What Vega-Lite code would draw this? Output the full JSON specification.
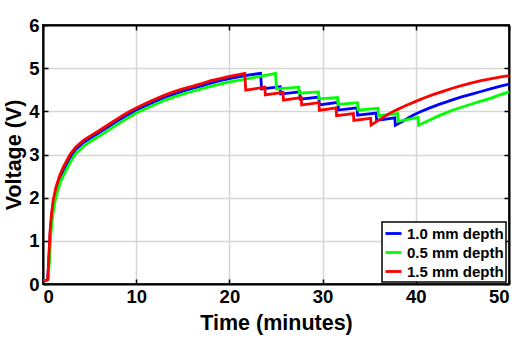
{
  "$schema": "https://vega.github.io/schema/vega-lite/v6.json",
  "width": 466,
  "height": 259,
  "autosize": {"type": "none"},
  "padding": {"left": 43, "top": 25, "right": 14, "bottom": 54},
  "background": "white",
  "datasets": {
    "curves": [
      {"t": 0, "v": 0.08, "s": "1.0 mm depth"},
      {"t": 0.3, "v": 0.08, "s": "1.0 mm depth"},
      {"t": 0.5, "v": 0.1, "s": "1.0 mm depth"},
      {"t": 0.62, "v": 0.5, "s": "1.0 mm depth"},
      {"t": 0.78, "v": 1.2, "s": "1.0 mm depth"},
      {"t": 0.95, "v": 1.6, "s": "1.0 mm depth"},
      {"t": 1.15, "v": 1.92, "s": "1.0 mm depth"},
      {"t": 1.45, "v": 2.2, "s": "1.0 mm depth"},
      {"t": 1.85, "v": 2.47, "s": "1.0 mm depth"},
      {"t": 2.3, "v": 2.67, "s": "1.0 mm depth"},
      {"t": 3, "v": 2.95, "s": "1.0 mm depth"},
      {"t": 3.5, "v": 3.12, "s": "1.0 mm depth"},
      {"t": 4.3, "v": 3.27, "s": "1.0 mm depth"},
      {"t": 5, "v": 3.37, "s": "1.0 mm depth"},
      {"t": 6, "v": 3.5, "s": "1.0 mm depth"},
      {"t": 7, "v": 3.64, "s": "1.0 mm depth"},
      {"t": 8, "v": 3.78, "s": "1.0 mm depth"},
      {"t": 9, "v": 3.91, "s": "1.0 mm depth"},
      {"t": 10, "v": 4.03, "s": "1.0 mm depth"},
      {"t": 11, "v": 4.13, "s": "1.0 mm depth"},
      {"t": 12, "v": 4.23, "s": "1.0 mm depth"},
      {"t": 13, "v": 4.32, "s": "1.0 mm depth"},
      {"t": 14, "v": 4.4, "s": "1.0 mm depth"},
      {"t": 15, "v": 4.47, "s": "1.0 mm depth"},
      {"t": 16, "v": 4.53, "s": "1.0 mm depth"},
      {"t": 17, "v": 4.59, "s": "1.0 mm depth"},
      {"t": 18, "v": 4.65, "s": "1.0 mm depth"},
      {"t": 19, "v": 4.71, "s": "1.0 mm depth"},
      {"t": 20, "v": 4.76, "s": "1.0 mm depth"},
      {"t": 21, "v": 4.8, "s": "1.0 mm depth"},
      {"t": 22, "v": 4.84, "s": "1.0 mm depth"},
      {"t": 23.35, "v": 4.88, "s": "1.0 mm depth"},
      {"t": 23.45, "v": 4.52, "s": "1.0 mm depth"},
      {"t": 25.45, "v": 4.57, "s": "1.0 mm depth"},
      {"t": 25.5, "v": 4.4, "s": "1.0 mm depth"},
      {"t": 27.55, "v": 4.45, "s": "1.0 mm depth"},
      {"t": 27.6, "v": 4.28, "s": "1.0 mm depth"},
      {"t": 29.6, "v": 4.33, "s": "1.0 mm depth"},
      {"t": 29.65, "v": 4.15, "s": "1.0 mm depth"},
      {"t": 31.65, "v": 4.21, "s": "1.0 mm depth"},
      {"t": 31.7, "v": 4.03, "s": "1.0 mm depth"},
      {"t": 33.7, "v": 4.08, "s": "1.0 mm depth"},
      {"t": 33.75, "v": 3.91, "s": "1.0 mm depth"},
      {"t": 35.75, "v": 3.96, "s": "1.0 mm depth"},
      {"t": 35.8, "v": 3.79, "s": "1.0 mm depth"},
      {"t": 37.75, "v": 3.85, "s": "1.0 mm depth"},
      {"t": 37.8, "v": 3.68, "s": "1.0 mm depth"},
      {"t": 38.5, "v": 3.76, "s": "1.0 mm depth"},
      {"t": 39.7, "v": 3.91, "s": "1.0 mm depth"},
      {"t": 40.5, "v": 3.99, "s": "1.0 mm depth"},
      {"t": 41.5, "v": 4.08, "s": "1.0 mm depth"},
      {"t": 42.5, "v": 4.16, "s": "1.0 mm depth"},
      {"t": 43.3, "v": 4.22, "s": "1.0 mm depth"},
      {"t": 44, "v": 4.27, "s": "1.0 mm depth"},
      {"t": 45, "v": 4.34, "s": "1.0 mm depth"},
      {"t": 46, "v": 4.4, "s": "1.0 mm depth"},
      {"t": 47, "v": 4.46, "s": "1.0 mm depth"},
      {"t": 48, "v": 4.52, "s": "1.0 mm depth"},
      {"t": 49, "v": 4.58, "s": "1.0 mm depth"},
      {"t": 50, "v": 4.63, "s": "1.0 mm depth"},

      {"t": 0, "v": 0.08, "s": "0.5 mm depth"},
      {"t": 0.35, "v": 0.08, "s": "0.5 mm depth"},
      {"t": 0.55, "v": 0.1, "s": "0.5 mm depth"},
      {"t": 0.68, "v": 0.5, "s": "0.5 mm depth"},
      {"t": 0.85, "v": 1.15, "s": "0.5 mm depth"},
      {"t": 1.0, "v": 1.5, "s": "0.5 mm depth"},
      {"t": 1.2, "v": 1.82, "s": "0.5 mm depth"},
      {"t": 1.5, "v": 2.1, "s": "0.5 mm depth"},
      {"t": 1.9, "v": 2.38, "s": "0.5 mm depth"},
      {"t": 2.4, "v": 2.6, "s": "0.5 mm depth"},
      {"t": 3, "v": 2.85, "s": "0.5 mm depth"},
      {"t": 3.5, "v": 3.02, "s": "0.5 mm depth"},
      {"t": 4.3, "v": 3.18, "s": "0.5 mm depth"},
      {"t": 5, "v": 3.29, "s": "0.5 mm depth"},
      {"t": 6, "v": 3.42, "s": "0.5 mm depth"},
      {"t": 7, "v": 3.56, "s": "0.5 mm depth"},
      {"t": 8, "v": 3.7, "s": "0.5 mm depth"},
      {"t": 9, "v": 3.83, "s": "0.5 mm depth"},
      {"t": 10, "v": 3.96, "s": "0.5 mm depth"},
      {"t": 11, "v": 4.06, "s": "0.5 mm depth"},
      {"t": 12, "v": 4.16, "s": "0.5 mm depth"},
      {"t": 13, "v": 4.25, "s": "0.5 mm depth"},
      {"t": 14, "v": 4.33, "s": "0.5 mm depth"},
      {"t": 15, "v": 4.4, "s": "0.5 mm depth"},
      {"t": 16, "v": 4.46, "s": "0.5 mm depth"},
      {"t": 17, "v": 4.52, "s": "0.5 mm depth"},
      {"t": 18, "v": 4.58, "s": "0.5 mm depth"},
      {"t": 19, "v": 4.63, "s": "0.5 mm depth"},
      {"t": 20, "v": 4.68, "s": "0.5 mm depth"},
      {"t": 21, "v": 4.72, "s": "0.5 mm depth"},
      {"t": 22, "v": 4.76, "s": "0.5 mm depth"},
      {"t": 23, "v": 4.8, "s": "0.5 mm depth"},
      {"t": 24, "v": 4.84, "s": "0.5 mm depth"},
      {"t": 24.95, "v": 4.88, "s": "0.5 mm depth"},
      {"t": 25.05, "v": 4.52, "s": "0.5 mm depth"},
      {"t": 27.45, "v": 4.56, "s": "0.5 mm depth"},
      {"t": 27.5, "v": 4.42, "s": "0.5 mm depth"},
      {"t": 29.55, "v": 4.45, "s": "0.5 mm depth"},
      {"t": 29.6, "v": 4.29, "s": "0.5 mm depth"},
      {"t": 31.6, "v": 4.32, "s": "0.5 mm depth"},
      {"t": 31.65, "v": 4.16, "s": "0.5 mm depth"},
      {"t": 33.75, "v": 4.2, "s": "0.5 mm depth"},
      {"t": 33.8, "v": 4.03, "s": "0.5 mm depth"},
      {"t": 35.95, "v": 4.07, "s": "0.5 mm depth"},
      {"t": 36.0, "v": 3.9, "s": "0.5 mm depth"},
      {"t": 38.05, "v": 3.95, "s": "0.5 mm depth"},
      {"t": 38.1, "v": 3.77, "s": "0.5 mm depth"},
      {"t": 40.25, "v": 3.86, "s": "0.5 mm depth"},
      {"t": 40.3, "v": 3.68, "s": "0.5 mm depth"},
      {"t": 41.5, "v": 3.8, "s": "0.5 mm depth"},
      {"t": 42.5, "v": 3.9, "s": "0.5 mm depth"},
      {"t": 43.3, "v": 3.97, "s": "0.5 mm depth"},
      {"t": 44, "v": 4.03, "s": "0.5 mm depth"},
      {"t": 45, "v": 4.1, "s": "0.5 mm depth"},
      {"t": 46, "v": 4.17, "s": "0.5 mm depth"},
      {"t": 46.9, "v": 4.23, "s": "0.5 mm depth"},
      {"t": 48, "v": 4.3, "s": "0.5 mm depth"},
      {"t": 49, "v": 4.38, "s": "0.5 mm depth"},
      {"t": 50, "v": 4.45, "s": "0.5 mm depth"},

      {"t": 0, "v": 0.08, "s": "1.5 mm depth"},
      {"t": 0.3, "v": 0.08, "s": "1.5 mm depth"},
      {"t": 0.5, "v": 0.1, "s": "1.5 mm depth"},
      {"t": 0.6, "v": 0.5, "s": "1.5 mm depth"},
      {"t": 0.75, "v": 1.2, "s": "1.5 mm depth"},
      {"t": 0.9, "v": 1.6, "s": "1.5 mm depth"},
      {"t": 1.1, "v": 1.95, "s": "1.5 mm depth"},
      {"t": 1.4, "v": 2.25, "s": "1.5 mm depth"},
      {"t": 1.8, "v": 2.52, "s": "1.5 mm depth"},
      {"t": 2.2, "v": 2.72, "s": "1.5 mm depth"},
      {"t": 2.9, "v": 3.0, "s": "1.5 mm depth"},
      {"t": 3.5, "v": 3.17, "s": "1.5 mm depth"},
      {"t": 4.3, "v": 3.32, "s": "1.5 mm depth"},
      {"t": 5, "v": 3.42, "s": "1.5 mm depth"},
      {"t": 6, "v": 3.55, "s": "1.5 mm depth"},
      {"t": 7, "v": 3.69, "s": "1.5 mm depth"},
      {"t": 8, "v": 3.83, "s": "1.5 mm depth"},
      {"t": 9, "v": 3.96, "s": "1.5 mm depth"},
      {"t": 10, "v": 4.08, "s": "1.5 mm depth"},
      {"t": 11, "v": 4.18, "s": "1.5 mm depth"},
      {"t": 12, "v": 4.28, "s": "1.5 mm depth"},
      {"t": 13, "v": 4.37, "s": "1.5 mm depth"},
      {"t": 14, "v": 4.45, "s": "1.5 mm depth"},
      {"t": 15, "v": 4.52, "s": "1.5 mm depth"},
      {"t": 16, "v": 4.58, "s": "1.5 mm depth"},
      {"t": 17, "v": 4.64, "s": "1.5 mm depth"},
      {"t": 18, "v": 4.71, "s": "1.5 mm depth"},
      {"t": 19, "v": 4.76, "s": "1.5 mm depth"},
      {"t": 20, "v": 4.81, "s": "1.5 mm depth"},
      {"t": 21, "v": 4.85, "s": "1.5 mm depth"},
      {"t": 21.65, "v": 4.88, "s": "1.5 mm depth"},
      {"t": 21.75, "v": 4.49, "s": "1.5 mm depth"},
      {"t": 23.8, "v": 4.56, "s": "1.5 mm depth"},
      {"t": 23.85, "v": 4.38, "s": "1.5 mm depth"},
      {"t": 25.75, "v": 4.44, "s": "1.5 mm depth"},
      {"t": 25.8, "v": 4.26, "s": "1.5 mm depth"},
      {"t": 27.7, "v": 4.32, "s": "1.5 mm depth"},
      {"t": 27.75, "v": 4.15, "s": "1.5 mm depth"},
      {"t": 29.6, "v": 4.2, "s": "1.5 mm depth"},
      {"t": 29.65, "v": 4.02, "s": "1.5 mm depth"},
      {"t": 31.45, "v": 4.08, "s": "1.5 mm depth"},
      {"t": 31.5, "v": 3.9, "s": "1.5 mm depth"},
      {"t": 33.3, "v": 3.95, "s": "1.5 mm depth"},
      {"t": 33.35, "v": 3.79, "s": "1.5 mm depth"},
      {"t": 35.15, "v": 3.84, "s": "1.5 mm depth"},
      {"t": 35.2, "v": 3.68, "s": "1.5 mm depth"},
      {"t": 36.2, "v": 3.82, "s": "1.5 mm depth"},
      {"t": 37, "v": 3.93, "s": "1.5 mm depth"},
      {"t": 38, "v": 4.04, "s": "1.5 mm depth"},
      {"t": 39, "v": 4.14, "s": "1.5 mm depth"},
      {"t": 40, "v": 4.23, "s": "1.5 mm depth"},
      {"t": 41, "v": 4.32, "s": "1.5 mm depth"},
      {"t": 42, "v": 4.4, "s": "1.5 mm depth"},
      {"t": 43, "v": 4.47, "s": "1.5 mm depth"},
      {"t": 44, "v": 4.54, "s": "1.5 mm depth"},
      {"t": 45, "v": 4.6, "s": "1.5 mm depth"},
      {"t": 46, "v": 4.66, "s": "1.5 mm depth"},
      {"t": 47, "v": 4.71, "s": "1.5 mm depth"},
      {"t": 48, "v": 4.75, "s": "1.5 mm depth"},
      {"t": 49, "v": 4.79, "s": "1.5 mm depth"},
      {"t": 50, "v": 4.83, "s": "1.5 mm depth"}
    ]
  },
  "data": {"name": "curves"},
  "layer": [
    {
      "mark": {"type": "line", "strokeWidth": 2.8, "clip": true},
      "encoding": {
        "x": {"field": "t", "type": "quantitative",
              "scale": {"domain": [0, 50], "nice": false},
              "axis": {"orient": "bottom", "values": [0, 10, 20, 30, 40, 50], "title": "Time (minutes)", "grid": true, "tickSize": -5, "labelPadding": 8, "titlePadding": 7}},
        "y": {"field": "v", "type": "quantitative",
              "scale": {"domain": [0, 6], "nice": false},
              "axis": {"orient": "left", "values": [0, 1, 2, 3, 4, 5, 6], "title": "Voltage (V)", "grid": true, "tickSize": -5, "labelPadding": 9, "titlePadding": 3}},
        "color": {"field": "s", "type": "nominal",
                  "scale": {"domain": ["1.0 mm depth", "0.5 mm depth", "1.5 mm depth"], "range": ["#0000ff", "#00ff00", "#ff0000"]},
                  "legend": {"title": null}}
      }
    },
    {
      "mark": {"type": "line", "opacity": 0},
      "encoding": {
        "x": {"field": "t", "type": "quantitative",
              "axis": {"orient": "top", "values": [0, 10, 20, 30, 40, 50], "title": null, "labels": false, "grid": false, "tickSize": -5}},
        "y": {"field": "v", "type": "quantitative",
              "axis": {"orient": "right", "values": [0, 1, 2, 3, 4, 5, 6], "title": null, "labels": false, "grid": false, "tickSize": -5}},
        "detail": {"field": "s"}
      }
    }
  ],
  "resolve": {"axis": {"x": "independent", "y": "independent"}},
  "config": {
    "view": {"stroke": "black", "strokeWidth": 2},
    "font": "Liberation Sans",
    "axis": {
      "labelFont": "Liberation Sans", "labelFontSize": 18.5, "labelFontWeight": "bold", "labelColor": "black",
      "titleFont": "Liberation Sans", "titleFontSize": 21.5, "titleFontWeight": "bold", "titleColor": "black",
      "domainColor": "black", "domainWidth": 2, "tickColor": "black", "tickWidth": 1.5,
      "gridColor": "#d6d6d6", "gridWidth": 1.5
    },
    "legend": {
      "orient": "none", "legendX": 339, "legendY": 197,
      "strokeColor": "black", "strokeWidth": 1.5, "fillColor": "white",
      "padding": 2, "rowPadding": 1,
      "labelFont": "Liberation Sans", "labelFontSize": 15, "labelFontWeight": "bold", "labelColor": "black",
      "symbolType": "stroke", "symbolStrokeWidth": 2.8, "symbolSize": 256, "labelOffset": 4
    }
  }
}
